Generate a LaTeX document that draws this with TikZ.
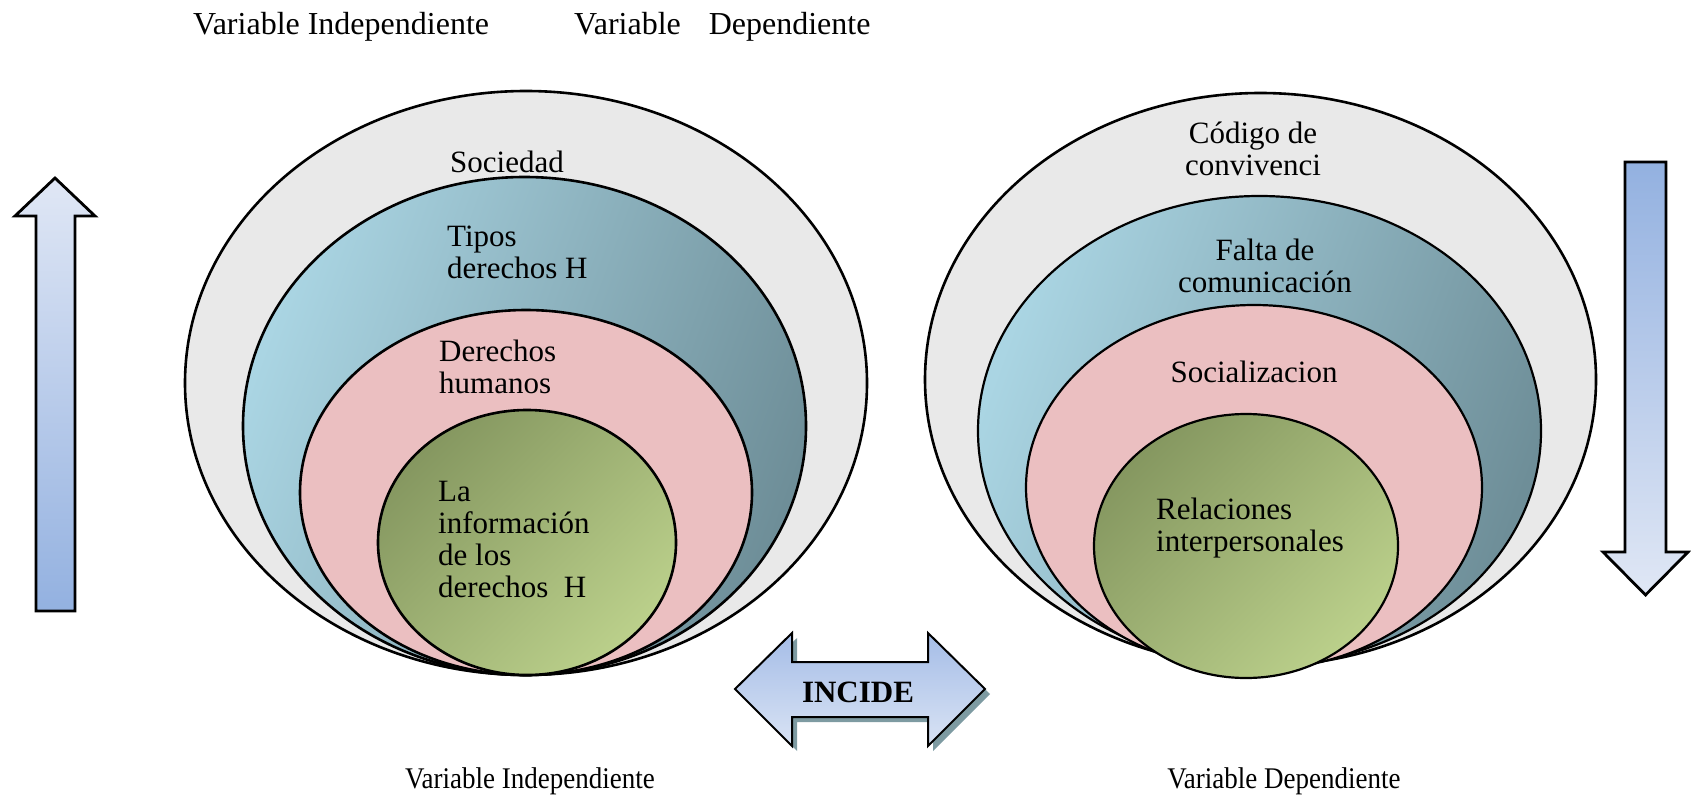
\documentclass[tikz,border=0pt]{standalone}
\usepackage{fontspec}
\setmainfont{Liberation Serif}
\newfontfamily\condfont[FakeStretch=0.9]{Liberation Serif}
\usetikzlibrary{shapes.geometric}
\definecolor{ringgray}{HTML}{E9E9E9}
\definecolor{blueL}{HTML}{AAD5E3}
\definecolor{blueD}{HTML}{6E8E98}
\definecolor{pinkF}{HTML}{EBBFC1}
\definecolor{greenD}{HTML}{859760}
\definecolor{greenL}{HTML}{BBD08B}
\definecolor{arrLight}{HTML}{E0E7F5}
\definecolor{arrDark}{HTML}{93B1E0}
\definecolor{incTop}{HTML}{A5BDE7}
\definecolor{incBot}{HTML}{D9E3F4}
\definecolor{shadowc}{HTML}{7E9BA2}
\newcommand\mylines[2][l]{\begin{tabular}[t]{@{}#1@{}}#2\end{tabular}}
\begin{document}
\begin{tikzpicture}[x=1pt,y=-1pt,
  ring/.style={ellipse, draw=black, line width=2.6pt, inner sep=0pt, outer sep=0pt},
  grayring/.style={ring, fill=ringgray},
  bluering/.style={ring, left color=blueL, right color=blueD, shading angle=70},
  pinkring/.style={ring, fill=pinkF},
  greenring/.style={ring, left color=greenD, right color=greenL, shading angle=45},
  lbl/.style={inner sep=0pt, font=\fontsize{31}{32}\selectfont},
  hdr/.style={inner sep=0pt, font=\fontsize{32}{34}\selectfont},
  foot/.style={inner sep=0pt, font=\condfont\fontsize{30}{32}\selectfont},
  blockarrow/.style={draw=black, line width=2.8pt, line join=miter},
  incarrow/.style={draw=black, line width=2pt, line join=miter, top color=incTop, bottom color=incBot}
]
\path[use as bounding box] (0,0) rectangle (1691,797);

% header
\node[hdr, anchor=base west] (h1) at (193,35) {Variable Independiente};
\node[hdr, anchor=base west] (h2) at (574,35) {Variable\hspace{28pt}Dependiente};

% left rings
\node[grayring, minimum width=682pt, minimum height=584pt] (L1) at (526,383) {};
\node[bluering, minimum width=563pt, minimum height=498pt] (L2) at (524.5,426) {};
\node[pinkring, minimum width=452pt, minimum height=365pt] (L3) at (526,492.5) {};
\node[greenring, minimum width=298pt, minimum height=265pt] (L4) at (527,542.5) {};

% right rings
\node[grayring, minimum width=671pt, minimum height=573pt] (R1) at (1260.5,379.5) {};
\node[bluering, line width=2.2pt, minimum width=563pt, minimum height=470pt] (R2) at (1259.5,431) {};
\node[pinkring, line width=2.2pt, minimum width=456pt, minimum height=365pt] (R3) at (1254,487.5) {};
\node[greenring, line width=2.2pt, minimum width=304pt, minimum height=264pt] (R4) at (1246,546) {};

% left labels
\node[lbl, anchor=base west] (tSoc) at (450,172) {Sociedad};
\node[lbl, anchor=base west] (tTipos) at (447,246) {\mylines{Tipos\\derechos H}};
\node[lbl, anchor=base west] (tDH) at (439,361) {\mylines{Derechos\\humanos}};
\node[lbl, anchor=base west] (tInfo) at (438,501) {\mylines{La\\información\\de los\\derechos\ \ H}};

% right labels
\node[lbl, anchor=base] (tCod) at (1253,143) {\mylines[c]{Código de\\convivenci}};
\node[lbl, anchor=base] (tFalta) at (1265,260) {\mylines[c]{Falta de\\comunicación}};
\node[lbl, anchor=base] (tSoz) at (1254,382) {Socializacion};
\node[lbl, anchor=base west] (tRel) at (1156,519) {\mylines{Relaciones\\interpersonales}};

% side arrows
\draw[blockarrow, top color=arrLight, bottom color=arrDark]
  (36,611) -- (36,216) -- (15,216) -- (55,178) -- (95,216) -- (75,216) -- (75,611) -- cycle;
\draw[blockarrow, top color=arrDark, bottom color=arrLight]
  (1625,162) -- (1666,162) -- (1666,552) -- (1688,552) -- (1645.5,595) -- (1603,552) -- (1625,552) -- cycle;

% INCIDE double arrow
\fill[shadowc, shift={(5,5)}]
  (735,689) -- (792,633) -- (792,662) -- (928,662) -- (928,633) -- (985,689)
  -- (928,746) -- (928,717) -- (792,717) -- (792,746) -- cycle;
\draw[incarrow]
  (735,689) -- (792,633) -- (792,662) -- (928,662) -- (928,633) -- (985,689)
  -- (928,746) -- (928,717) -- (792,717) -- (792,746) -- cycle;
\node[inner sep=0pt, anchor=base, font=\bfseries\fontsize{31}{32}\selectfont] (inc) at (858,702) {INCIDE};

% footer
\node[foot, anchor=base] (f1) at (530,788) {Variable Independiente};
\node[foot, anchor=base] (f2) at (1284,788) {Variable Dependiente};
\end{tikzpicture}
\end{document}
